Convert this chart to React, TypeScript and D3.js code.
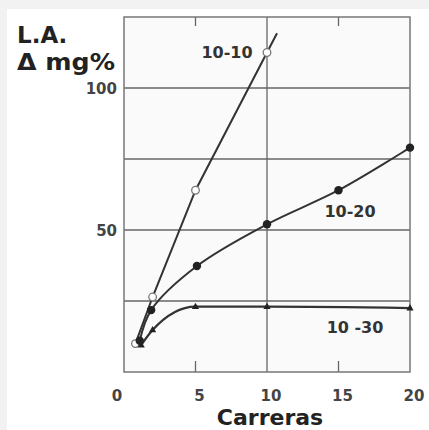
import React from "react";
import * as d3 from "d3";

// Blood lactate increase (mg%) versus number of runs, for three work/rest schemes
const carreras10_10 = [0.8, 2, 5, 10];
const la10_10 = [10, 26.4, 64, 112.5];

const carreras10_20 = [1.1, 1.9, 5.1, 10, 15, 20];
const la10_20 = [11, 21.8, 37.3, 52, 64, 79];

const carreras10_30 = [1.2, 2, 5, 10, 20];
const la10_30 = [9.5, 14.8, 23, 23, 22.5];

const xTicks = [0, 5, 10, 15, 20];
const yTickLabels = [50, 100];
const yGrid = [25, 50, 75, 100];

const W = 429;
const H = 430;
const FONT = "'DejaVu Sans', Verdana, sans-serif";

export default function App() {
  const x = d3.scaleLinear().domain([0, 20]).range([124, 410]);
  const y = d3.scaleLinear().domain([0, 125]).range([372, 17]);

  const pts = (xs: number[], ys: number[]) => xs.map((v, i) => [v, ys[i]] as [number, number]);
  const s1 = pts(carreras10_10, la10_10);
  const s2 = pts(carreras10_20, la10_20);
  const s3 = pts(carreras10_30, la10_30);

  const straight = d3.line<[number, number]>().x((d) => x(d[0])).y((d) => y(d[1]));
  const gentle = d3
    .line<[number, number]>()
    .x((d) => x(d[0]))
    .y((d) => y(d[1]))
    .curve(d3.curveCatmullRom.alpha(0.5));
  const smooth = d3
    .line<[number, number]>()
    .x((d) => x(d[0]))
    .y((d) => y(d[1]))
    .curve(d3.curveMonotoneX);

  // the 10-10 line runs on past its last point along the final segment
  const a = s1[s1.length - 2];
  const b = s1[s1.length - 1];
  const slope = (b[1] - a[1]) / (b[0] - a[0]);
  const ext: [number, number] = [b[0] + 0.7, b[1] + 0.7 * slope];
  const s1Line = [...s1, ext];

  const [x0, x1] = x.range();
  const [y0, y1] = y.range();

  const tri = (cx: number, cy: number, r: number) =>
    `M${cx},${cy - r}L${cx + r * 0.9},${cy + r * 0.6}L${cx - r * 0.9},${cy + r * 0.6}Z`;

  return (
    <svg
      width={W}
      height={H}
      style={{ position: "absolute", left: 0, top: 0, display: "block" }}
    >
      <rect x={0} y={0} width={W} height={H} fill="#f2f2f2" />
      <rect x={7} y={9} width={W - 7} height={H - 9} fill="#ffffff" />
      <rect x={x0} y={y1} width={x1 - x0} height={y0 - y1} fill="#fafafa" />

      {/* grid */}
      {yGrid.map((v) => (
        <line key={"g" + v} x1={x0} x2={x1} y1={y(v)} y2={y(v)} stroke="#666" strokeWidth={1.3} />
      ))}
      <line x1={x(10)} x2={x(10)} y1={y1} y2={y0} stroke="#666" strokeWidth={1.3} />
      {[5, 15].map((v) => (
        <g key={"t" + v}>
          <line x1={x(v)} x2={x(v)} y1={y0} y2={y0 - 11} stroke="#666" strokeWidth={1.3} />
          <line x1={x(v)} x2={x(v)} y1={y1} y2={y1 + 9} stroke="#666" strokeWidth={1.3} />
        </g>
      ))}

      {/* frame */}
      <rect
        x={x0}
        y={y1}
        width={x1 - x0}
        height={y0 - y1}
        fill="none"
        stroke="#777"
        strokeWidth={1.5}
      />

      {/* series lines */}
      <path d={straight(s1Line) ?? ""} fill="none" stroke="#333" strokeWidth={2} />
      <path d={gentle(s2) ?? ""} fill="none" stroke="#333" strokeWidth={2} />
      <path d={smooth(s3) ?? ""} fill="none" stroke="#333" strokeWidth={2.3} />

      {/* markers */}
      {s1.map((d, i) => (
        <circle key={"c1" + i} cx={x(d[0])} cy={y(d[1])} r={3.8} fill="#fff" stroke="#777" strokeWidth={1.3} />
      ))}
      {s2.map((d, i) => (
        <circle key={"c2" + i} cx={x(d[0])} cy={y(d[1])} r={4.2} fill="#222" />
      ))}
      {s3.map((d, i) => (
        <path key={"c3" + i} d={tri(x(d[0]), y(d[1]), 4)} fill="#222" />
      ))}

      {/* series labels */}
      <g fontFamily={FONT} fontWeight="bold" fontSize={16} fill="#333" textAnchor="middle">
        <text x={227} y={58}>10-10</text>
        <text x={350} y={217}>10-20</text>
        <text x={355} y={333}>10 -30</text>
      </g>

      {/* tick labels */}
      <g fontFamily={FONT} fontWeight="bold" fontSize={15} fill="#444">
        {yTickLabels.map((v) => (
          <text key={"yl" + v} x={117} y={y(v) + 6} textAnchor="end">
            {v}
          </text>
        ))}
        {xTicks.map((v) => (
          <text key={"xl" + v} x={x(v) + (v === 0 ? -7 : 4)} y={401} textAnchor="middle">
            {v}
          </text>
        ))}
      </g>

      {/* axis titles */}
      <g fontFamily={FONT} fontWeight="bold" fill="#222">
        <text x={17} y={43} fontSize={23}>L.A.</text>
        <text x={17} y={70} fontSize={23} textLength={98} lengthAdjust="spacingAndGlyphs">
          Δ mg%
        </text>
        <text x={270} y={425} fontSize={22} textAnchor="middle">
          Carreras
        </text>
      </g>
    </svg>
  );
}
